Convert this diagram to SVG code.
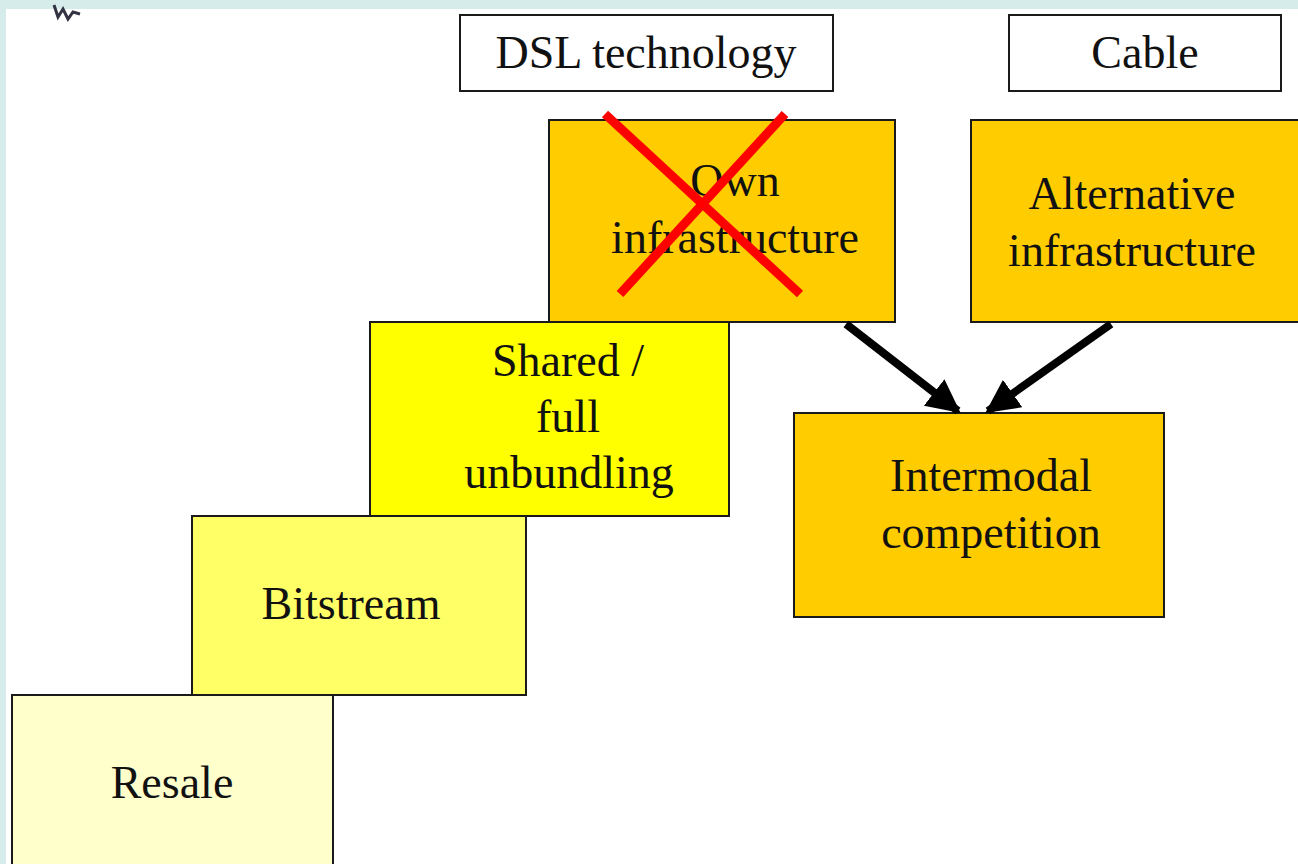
<svg xmlns="http://www.w3.org/2000/svg" width="1298" height="864" viewBox="0 0 1298 864">
<defs>
<style>
.box{stroke:#1a1a1a;stroke-width:2}
.t{font-family:"Liberation Serif","Times New Roman",serif;font-size:46px;fill:#111;text-anchor:middle}
.arr{stroke:#000;stroke-width:8;fill:none}
.x{stroke:#ff0000;stroke-width:9}
</style>
<marker id="ah" viewBox="0 0 10 10" refX="9" refY="5" markerWidth="4.2" markerHeight="4.2" orient="auto" markerUnits="strokeWidth">
<path d="M0,0 L10,5 L0,10 z" fill="#000"/>
</marker>
</defs>
<rect x="0" y="0" width="1298" height="864" fill="#ffffff"/>
<rect x="0" y="0" width="1298" height="9" fill="#d5ecea"/>
<rect x="0" y="0" width="6" height="864" fill="#d5ecea"/>
<path d="M54,5 L58,17 L63,9 L68,19 L73,12 L80,14" fill="none" stroke="#333344" stroke-width="3"/>
<g id="dsl"><rect class="box" x="460" y="15" width="373" height="76" fill="#fff"/><text class="t" x="646" y="68">DSL technology</text></g>
<g id="cable"><rect class="box" x="1009" y="15" width="272" height="76" fill="#fff"/><text class="t" x="1145" y="68">Cable</text></g>
<g id="own"><rect class="box" x="549" y="120" width="346" height="202" fill="#ffcc00"/><text class="t" x="735" y="196">Own</text><text class="t" x="735" y="253">infrastructure</text></g>
<g id="alt"><rect class="box" x="971" y="120" width="340" height="202" fill="#ffcc00"/><text class="t" x="1132" y="209">Alternative</text><text class="t" x="1132" y="266">infrastructure</text></g>
<g id="shared"><rect class="box" x="370" y="322" width="359" height="194" fill="#ffff00"/><text class="t" x="568" y="376">Shared /</text><text class="t" x="568" y="432">full</text><text class="t" x="569" y="488">unbundling</text></g>
<g id="bitstream"><rect class="box" x="192" y="516" width="334" height="179" fill="#ffff66"/><text class="t" x="351" y="619">Bitstream</text></g>
<g id="resale"><rect class="box" x="12" y="695" width="321" height="180" fill="#ffffcc"/><text class="t" x="172" y="798">Resale</text></g>
<g id="intermodal"><rect class="box" x="794" y="413" width="370" height="204" fill="#ffcc00"/><text class="t" x="991" y="491">Intermodal</text><text class="t" x="991" y="548">competition</text></g>
<g id="connectors">
<line class="arr" x1="846" y1="324" x2="958" y2="411" marker-end="url(#ah)"/>
<line class="arr" x1="1111" y1="324" x2="988" y2="411" marker-end="url(#ah)"/>
</g>
<g id="cross">
<line class="x" x1="605" y1="114" x2="800" y2="294"/>
<line class="x" x1="785" y1="114" x2="620" y2="294"/>
</g>
</svg>
